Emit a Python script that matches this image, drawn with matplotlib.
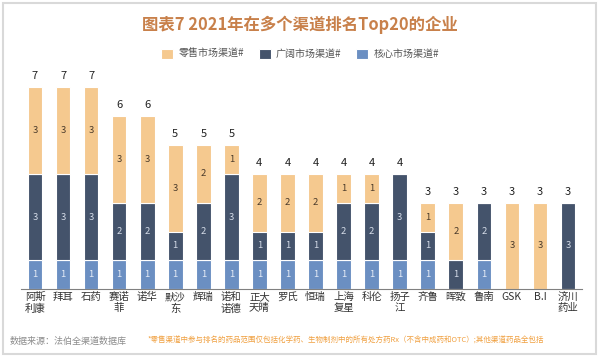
import matplotlib
matplotlib.use("Agg")
import matplotlib.pyplot as plt
from matplotlib.patches import Rectangle
import numpy as np

plt.rcParams['font.family'] = ['Noto Sans CJK SC', 'DejaVu Sans']

companies = ["阿斯\n利康", "拜耳", "石药", "赛诺\n菲", "诺华", "默沙\n东", "辉瑞", "诺和\n诺德",
             "正大\n天晴", "罗氏", "恒瑞", "上海\n复星", "科伦", "扬子\n江", "齐鲁", "晖致",
             "鲁南", "GSK", "B.I", "济川\n药业"]
core = [1, 1, 1, 1, 1, 1, 1, 1, 1, 1, 1, 1, 1, 1, 1, 0, 1, 0, 0, 0]
broad = [3, 3, 3, 2, 2, 1, 2, 3, 1, 1, 1, 2, 2, 3, 1, 1, 2, 0, 0, 3]
retail = [3, 3, 3, 3, 3, 3, 2, 1, 2, 2, 2, 1, 1, 0, 1, 2, 0, 3, 3, 0]
series_names = ["零售市场渠道#", "广阔市场渠道#", "核心市场渠道#"]

c_retail = "#F5C98F"
c_broad = "#44536B"
c_core = "#6B8FC2"

fig = plt.figure(figsize=(6, 3.57), dpi=100)
fig.patch.set_facecolor("white")
fig.add_artist(Rectangle((3/600, 3/357), 593/600, 351/357, transform=fig.transFigure,
                         fill=False, edgecolor="#D9D9D9", linewidth=1.5))

ax = fig.add_axes([21/600, 67.7/357, 561/600, 7.4*28.9/357])
x = np.arange(len(companies))
w = 0.52
core_a = np.array(core); broad_a = np.array(broad); retail_a = np.array(retail)
ax.bar(x, core_a, w, color=c_core, edgecolor="white", linewidth=0.8, label=series_names[2])
ax.bar(x, broad_a, w, bottom=core_a, color=c_broad, edgecolor="white", linewidth=0.8, label=series_names[1])
ax.bar(x, retail_a, w, bottom=core_a + broad_a, color=c_retail, edgecolor="white", linewidth=0.8, label=series_names[0])

for i in range(len(x)):
    b = 0
    for val, col in ((core_a[i], "#E8EEF7"), (broad_a[i], "#D5DCE8"), (retail_a[i], "#4A3A2A")):
        if val > 0:
            ax.text(x[i], b + val / 2, str(val), ha="center", va="center", fontsize=6.8, color=col)
        b += val
    ax.text(x[i], b + 0.2, str(b), ha="center", va="bottom", fontsize=8, color="#222222")

ax.set_xlim(-0.5, len(x) - 0.5)
ax.set_ylim(0, 7.4)
ax.set_yticks([])
ax.set_xticks(x)
ax.set_xticklabels(companies, fontsize=7.5, color="#333333", linespacing=1.15)
ax.tick_params(axis="x", length=0, pad=2)
for s in ["top", "right", "left"]:
    ax.spines[s].set_visible(False)
ax.spines["bottom"].set_color("#808080")
ax.spines["bottom"].set_linewidth(0.8)

fig.text(0.5, 1 - 25/357, "图表7 2021年在多个渠道排名Top20的企业", ha="center", va="center",
         fontsize=11.8, fontweight="bold", color="#C8804A")

handles, labels = ax.get_legend_handles_labels()
order = [2, 1, 0]
fig.legend([handles[i] for i in order], [labels[i] for i in order], loc="center",
           bbox_to_anchor=(0.5, 1 - 54/357), ncol=3, frameon=False, fontsize=7.2,
           handlelength=1.2, handleheight=1.1, columnspacing=1.5, handletextpad=0.5,
           labelcolor="#555555")

fig.text(10/600, 1 - 341/357, "数据来源：法伯全渠道数据库", ha="left", va="center", fontsize=6.5, color="#8C8C8C")
fig.text(148/600, 1 - 341/357,
         "*零售渠道中参与排名的药品范围仅包括化学药、生物制剂中的所有处方药Rx（不含中成药和OTC）;其他渠道药品全包括",
         ha="left", va="center", fontsize=5.4, color="#F0A040")

fig.savefig("out.png", dpi=100, facecolor="white")
